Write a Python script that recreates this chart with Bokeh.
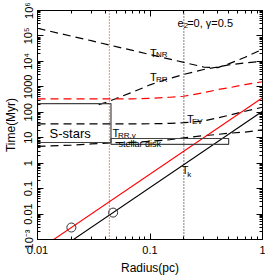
import math
from bokeh.plotting import figure
from bokeh.models import LogAxis, FixedTicker, Label, Span
from bokeh.embed import file_html
from bokeh.resources import INLINE

FONT = "Liberation Sans"

# ---- data ----
r_grid = [0.01, 0.02, 0.03, 0.05, 0.07, 0.1, 0.15, 0.2, 0.3, 0.4, 0.5, 0.7, 1.0]
t_nr = [2.0e5, 9.8e4, 6.5e4, 3.8e4, 2.7e4, 1.85e4, 1.23e4, 9.1e3, 6.0e3, 5.7e3, 8.0e3, 1.45e4, 3.0e4]
t_red_dash = [335, 335, 335, 335, 335, 355, 389, 427, 589, 776, 912, 1230, 1585]
t_ev = [35, 35, 35, 35, 35, 35.5, 36.5, 38.9, 46, 60, 76, 110, 158]
t_rrv = [4.57, 5.13, 5.69, 6.38, 6.61, 7.24, 8.32, 10.0, 12.0, 13.5, 15.0, 16.6, 20.4]

r_rr = [0.035, 0.04, 0.05, 0.07, 0.1, 0.15, 0.2, 0.3, 0.5, 0.7, 1.0]
t_rr = [200, 240, 347, 617, 1200, 2140, 3090, 4790, 7240, 8710, 10000]

r_k = [0.01, 1.0]
t_k_black = [1.1e-4, 110]
t_k_red = [3.7e-4, 370]

r_circ = [0.02, 0.047]
t_circ = [2.96e-3, 0.0114]

r_vline_red = 0.0435
r_vline_black = 0.2

sstar_r = [0.01, 0.045]
sstar_t = [6.5, 220]
disk_r = [0.045, 0.5]
disk_t = [5.5, 9.3]

x_tick_vals = [0.01, 0.1, 1.0]
x_tick_labels = ["0.01", "0.1", "1"]
y_tick_vals = [1e-3, 1e-2, 0.1, 1.0, 10.0, 100.0, 1000.0, 1e4, 1e5, 1e6]
y_tick_labels = ["10\u207b\u00b3", "0.01", "0.1", "1", "10", "100", "1000",
                 "10\u2074", "10\u2075", "10\u2076"]

x_minor = [m * 10.0 ** e for e in (-2, -1) for m in range(2, 10)]
y_minor = [m * 10.0 ** e for e in range(-3, 6) for m in range(2, 10)]

p = figure(width=265, height=277, x_axis_type="log", y_axis_type="log",
           x_range=(0.01, 1.0), y_range=(1e-3, 1e6),
           output_backend="svg", toolbar_location=None,
           min_border_left=32, min_border_right=3, min_border_top=10, min_border_bottom=36)
p.grid.visible = False
p.outline_line_color = "black"
p.outline_line_width = 1
p.background_fill_color = "white"
p.border_fill_color = "white"

xt = FixedTicker(ticks=x_tick_vals, minor_ticks=x_minor)
yt = FixedTicker(ticks=y_tick_vals, minor_ticks=y_minor)


def style_axis(ax, show_labels):
    ax.major_tick_in = 6
    ax.major_tick_out = 0
    ax.minor_tick_in = 3
    ax.minor_tick_out = 0
    ax.axis_line_color = "black"
    ax.major_tick_line_color = "black"
    ax.minor_tick_line_color = "black"
    ax.major_label_text_font = FONT
    ax.major_label_text_color = "black"
    ax.axis_label_text_font = FONT
    ax.axis_label_text_font_style = "normal"
    ax.axis_label_text_font_size = "12px"
    ax.axis_label_text_color = "black"
    if show_labels:
        ax.major_label_text_font_size = "11px"
        ax.major_label_standoff = 4
    else:
        ax.major_label_text_font_size = "1px"
        ax.major_label_text_color = None
        ax.major_label_standoff = 0


xa = p.xaxis[0]
xa.ticker = xt
xa.major_label_overrides = dict(zip(x_tick_vals, x_tick_labels))
style_axis(xa, True)
xa.major_label_standoff = 6
xa.axis_label = "Radius(pc)"
xa.axis_label_standoff = 4

ya = p.yaxis[0]
ya.ticker = yt
ya.major_label_overrides = dict(zip(y_tick_vals, y_tick_labels))
ya.major_label_orientation = "vertical"
style_axis(ya, True)
ya.major_label_standoff = 3
ya.axis_label = "Time(Myr)"
ya.axis_label_standoff = 2

top = LogAxis(ticker=FixedTicker(ticks=x_tick_vals, minor_ticks=x_minor))
style_axis(top, False)
p.add_layout(top, "above")
right = LogAxis(ticker=FixedTicker(ticks=y_tick_vals, minor_ticks=y_minor))
style_axis(right, False)
p.add_layout(right, "right")

# ---- curves ----
p.line(r_grid, t_nr, line_color="black", line_width=1.2, line_dash="8 5")
p.line(r_rr, t_rr, line_color="black", line_width=1.2, line_dash="8 5")
p.line(r_grid, t_red_dash, line_color="red", line_width=1.2, line_dash="8 5")
p.line(r_grid, t_ev, line_color="black", line_width=1.2, line_dash="8 5")
p.line(r_grid, t_rrv, line_color="black", line_width=1.2, line_dash="8 5")

p.line(r_k, t_k_red, line_color="red", line_width=1.1)
p.line(r_k, t_k_black, line_color="black", line_width=1.1)

p.scatter(r_circ, t_circ, marker="circle", size=9, fill_color=None,
          line_color="#333333", line_width=1)

p.add_layout(Span(location=r_vline_red, dimension="height", line_color="red",
                  line_dash="1 2", line_width=1))
p.add_layout(Span(location=r_vline_black, dimension="height", line_color="black",
                  line_dash="1 2", line_width=1))

p.quad(left=[sstar_r[0]], right=[sstar_r[1]], bottom=[sstar_t[0]], top=[sstar_t[1]],
       fill_color=None, line_color="#444444", line_width=1.2)
p.quad(left=[disk_r[0]], right=[disk_r[1]], bottom=[disk_t[0]], top=[disk_t[1]],
       fill_color=None, line_color="#444444", line_width=1.2)


# ---- text labels ----
def lab(x, y, text, size, **kw):
    p.add_layout(Label(x=x, y=y, text=text, text_font=FONT, text_font_size=size,
                       text_color="black", text_baseline="alphabetic", **kw))


lab(0.100, 2.2e4, "T", "11px")
lab(0.1128, 1.85e4, "NR", "8px")
lab(0.100, 2.35e3, "T", "11px")
lab(0.1128, 1.95e3, "RR", "8px")
lab(0.213, 55, "T", "11px")
lab(0.236, 42, "EV", "8px")
lab(0.0465, 15.5, "T", "11px")
lab(0.052, 11.8, "RR,v", "8px")
lab(0.1915, 0.55, "T", "11px")
lab(0.214, 0.36, "k", "8px")
lab(0.0128, 15.0, "S-stars", "13px")
lab(0.0525, 5.5, "stellar disk", "9px")
lab(0.176, 3.1e5, "e", "11px")
lab(0.2, 2.6e5, "2", "8px")
lab(0.214, 3.1e5, "=0,  \u03b3=0.5", "11px")

open("out.html", "w").write(file_html(p, INLINE))
